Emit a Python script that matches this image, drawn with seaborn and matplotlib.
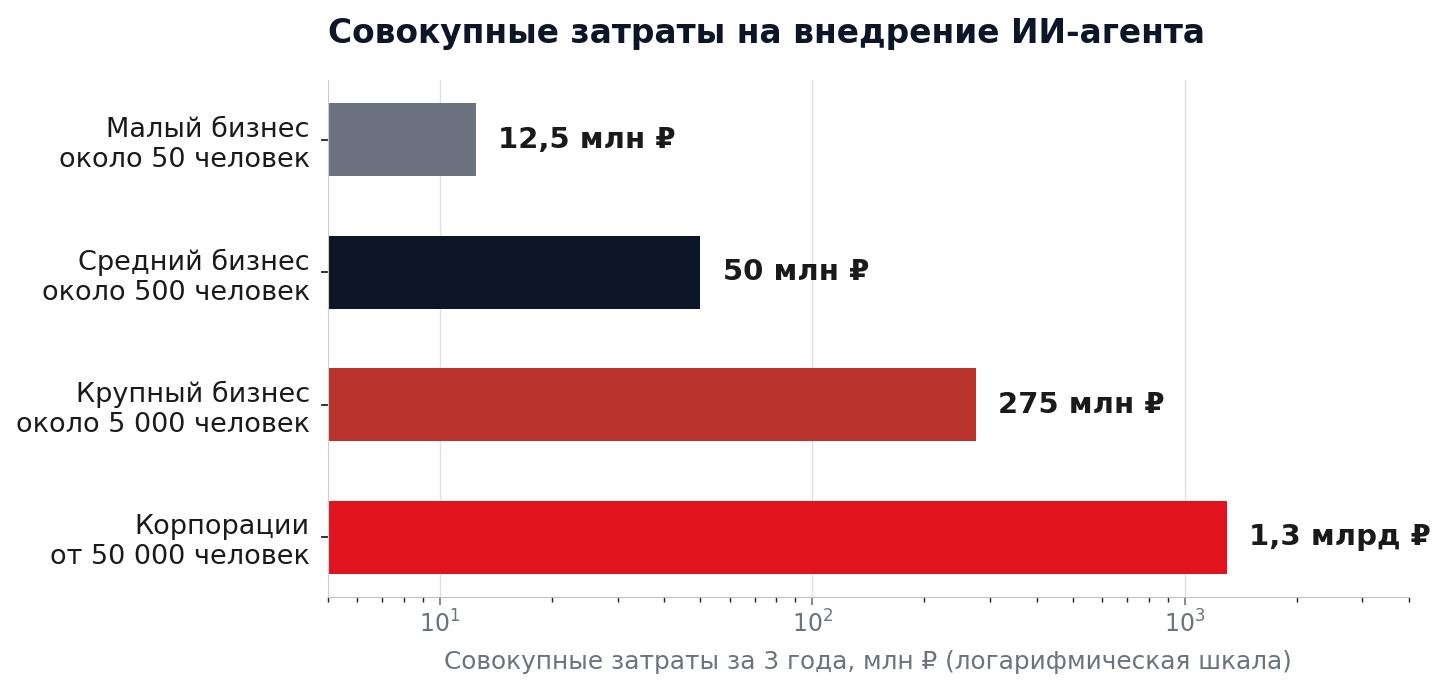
import matplotlib
matplotlib.use("Agg")
import matplotlib.pyplot as plt
import seaborn as sns
import pandas as pd

# данные
categories = ["Малый бизнес\nоколо 50 человек",
              "Средний бизнес\nоколо 500 человек",
              "Крупный бизнес\nоколо 5 000 человек",
              "Корпорации\nот 50 000 человек"]
values = [12.5, 50, 275, 1300]
value_labels = ["12,5 млн ₽", "50 млн ₽", "275 млн ₽", "1,3 млрд ₽"]
colors = ["#6b7280", "#0c1628", "#b8332b", "#e0141f"]

sns.set_style("white")
plt.rcParams['font.family'] = ['DejaVu Sans']

df = pd.DataFrame({"cat": categories, "val": values})

fig, ax = plt.subplots(figsize=(14.51, 6.91), dpi=100)
fig.subplots_adjust(left=0.226, right=0.971, top=0.884, bottom=0.136)

sns.barplot(data=df, x="val", y="cat", hue="cat", palette=colors,
            orient="h", width=0.55, legend=False, ax=ax, saturation=1,
            linewidth=0)
ax.set_xscale("log")
ax.set_xlim(5, 4000)
ax.set_ylim(3.45, -0.45)

# подписи значений
for i, (v, lab) in enumerate(zip(values, value_labels)):
    ax.annotate(lab, xy=(v, i), xytext=(16, 0), textcoords="offset points",
                va="center", ha="left", fontsize=21, fontweight="bold",
                color="#1a1a1a")

ax.grid(axis="x", which="major", color="#e0e0e0", linewidth=1)
ax.set_axisbelow(True)
for s in ["top", "right"]:
    ax.spines[s].set_visible(False)
ax.spines["left"].set_color("#cccccc")
ax.spines["bottom"].set_color("#c0c0c0")

ax.tick_params(axis="y", length=5, width=1.2, color="#111111", labelsize=19.5,
               labelcolor="#1a1a1a", left=True, pad=8)
ax.tick_params(axis="x", which="major", length=6, width=1.2, color="#6b7280",
               labelsize=17, labelcolor="#6b7280", bottom=True)
ax.tick_params(axis="x", which="minor", length=3.5, width=1, color="#222222",
               bottom=True)

ax.set_ylabel("")
ax.set_xlabel("Совокупные затраты за 3 года, млн ₽ (логарифмическая шкала)",
              fontsize=17.8, color="#6b7280", labelpad=9)

fig.text(328 / 1451, 1 - 33 / 691, "Совокупные затраты на внедрение ИИ-агента",
         fontsize=23.7, fontweight="bold", color="#0c1628", va="center", ha="left")

fig.savefig("out.png", dpi=100)
